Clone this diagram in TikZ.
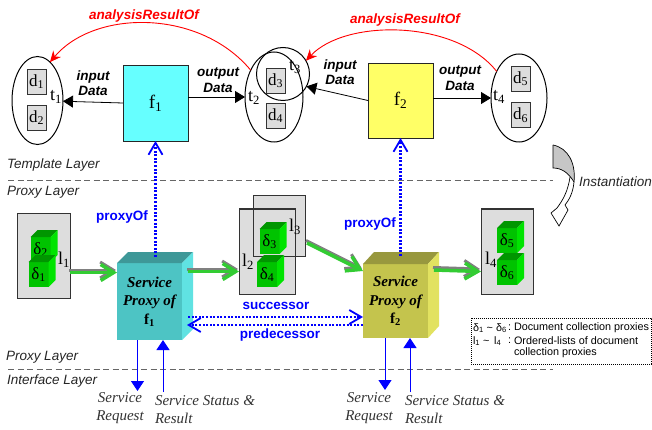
\documentclass[tikz,border=0pt]{standalone}
\usepackage{fontspec}
\setmainfont{Liberation Serif}
\setsansfont{Liberation Sans}
\usetikzlibrary{arrows.meta,shapes.geometric,calc}
\definecolor{fcyan}{RGB}{102,255,255}
\definecolor{fyellow}{RGB}{255,255,102}
\definecolor{boxgray}{RGB}{221,221,221}
\definecolor{cubefront}{RGB}{0,195,0}
\definecolor{cubetop}{RGB}{0,150,0}
\definecolor{cuberight}{RGB}{0,228,0}
\definecolor{spafront}{RGB}{77,196,196}
\definecolor{spatop}{RGB}{62,152,152}
\definecolor{sparight}{RGB}{96,226,226}
\definecolor{spbfront}{RGB}{196,196,77}
\definecolor{spbtop}{RGB}{152,152,62}
\definecolor{spbright}{RGB}{226,226,96}
\definecolor{garrow}{RGB}{51,204,51}
\definecolor{gshadow}{RGB}{128,128,128}
\newcommand\gcube[4]{%
  \node[cubefr] (#1) at (#2,#3) {#4};
  \fill[cubetop] (#1.north west) -- ++(7,-7) -- ($(#1.north east)+(7,-7)$) -- (#1.north east) -- cycle;
  \fill[cuberight] (#1.north east) -- ++(7,-7) -- ($(#1.south east)+(7,-7)$) -- (#1.south east) -- cycle;
}
\begin{document}
\begin{tikzpicture}[x=1pt,y=-1pt,
  every node/.style={inner sep=0pt, outer sep=0pt},
  ell/.style={ellipse, draw=black, line width=1pt, inner sep=0pt},
  dbox/.style={draw=black!80, line width=0.8pt, fill=boxgray, minimum width=19pt, minimum height=25pt, font=\fontsize{17}{17}\selectfont},
  sym/.style={font=\fontsize{18}{18}\selectfont},
  fbox/.style={draw=black!85, line width=0.9pt, minimum width=65pt, font=\fontsize{19}{19}\selectfont},
  dlabel/.style={font=\sffamily\bfseries\itshape\fontsize{13.5}{15.5}\selectfont, align=center},
  redlbl/.style={font=\sffamily\bfseries\itshape\fontsize{13.5}{15}\selectfont, text=red},
  layerlbl/.style={font=\sffamily\itshape\fontsize{13.5}{15}\selectfont, anchor=west, text=black!85},
  bluelbl/.style={font=\sffamily\bfseries\fontsize{13.5}{15}\selectfont, text=blue},
  blk/.style={draw=black, line width=0.8pt, -{Triangle[length=10pt,width=12pt]}},
  redarr/.style={draw=red, line width=0.9pt, -{Stealth[length=11pt,width=10pt]}},
  layerline/.style={draw=black!60, line width=0.9pt, dash pattern=on 6pt off 3.5pt},
  lboxfill/.style={fill=boxgray},
  lboxline/.style={draw=black!80, line width=1pt},
  cubefr/.style={fill=cubefront, minimum width=20pt, minimum height=25pt, font=\fontsize{17}{17}\selectfont},
  spnode/.style={minimum width=65pt, align=center, font=\rmfamily\bfseries\itshape\fontsize{15}{18.5}\selectfont},
  bdot/.style={draw=blue, line width=2.2pt, dash pattern=on 2pt off 1.6pt},
  vtip/.style={-{Straight Barb[length=12pt,width=14pt,line width=1.8pt]}},
  barr/.style={draw=blue, line width=1pt, -{Triangle[length=10pt,width=13pt]}},
  svclbl/.style={font=\rmfamily\itshape\fontsize{15}{18}\selectfont, text=black!80},
  gsh/.style={draw=gshadow, line width=3pt, -{Straight Barb[length=13pt,width=16pt,line width=3pt]}, transform canvas={xshift=-1pt,yshift=2.5pt}},
  ggr/.style={draw=garrow, line width=3.5pt, -{Straight Barb[length=13pt,width=16pt,line width=3.5pt]}},
  legendtxt/.style={font=\sffamily\fontsize{10.8}{13}\selectfont, anchor=west}
]
\useasboundingbox (0,0) rectangle (652,430);
\fill[white] (0,0) rectangle (652,430);

% ---------- template layer ----------
\node[ell, minimum width=51pt, minimum height=88pt] (t1) at (37.5,100.5) {};
\node[ell, minimum width=58pt, minimum height=90pt] (t2) at (274,97) {};
\node[circle, draw=black, line width=1pt, minimum size=53pt] (t3) at (283,74) {};
\node[ell, minimum width=56pt, minimum height=88pt] (t4) at (519,98) {};

\node[dbox] (d1) at (36.5,81.5) {d\textsubscript{1}};
\node[dbox] (d2) at (36.5,117.5) {d\textsubscript{2}};
\node[dbox] (d3) at (275.5,80.5) {d\textsubscript{3}};
\node[dbox] (d4) at (275.5,115.5) {d\textsubscript{4}};
\node[dbox] (d5) at (520.5,78.5) {d\textsubscript{5}};
\node[dbox] (d6) at (520.5,115) {d\textsubscript{6}};

\node[sym] (t1l) at (56,97) {t\textsubscript{1}};
\node[sym] (t2l) at (254,98) {t\textsubscript{2}};
\node[sym] (t3l) at (295,67) {t\textsubscript{3}};
\node[sym] (t4l) at (499,97) {t\textsubscript{4}};

\node[fbox, fill=fcyan, minimum height=76pt] (f1) at (155.5,103) {f\textsubscript{1}};
\node[fbox, fill=fyellow, minimum height=75pt] (f2) at (400.5,100.5) {f\textsubscript{2}};

\draw[blk] (f1.west) -- (t1);
\draw[blk] (f1.east |- t2.west) -- (t2.west);
\draw[blk] (f2.west) -- (t3.-28);
\draw[blk] (f2.east |- t4.west) -- (t4.west);

\node[dlabel] (in1) at (93,83) {input\\Data};
\node[dlabel] (out1) at (218,80) {output\\Data};
\node[dlabel] (in2) at (340,72) {input\\Data};
\node[dlabel] (out2) at (460,78) {output\\Data};

\draw[redarr] (t2.131) .. controls (200,9) and (95,9) .. (t1.72);
\draw[redarr] (t4.130) .. controls (455,19) and (345,19) .. (t3.30);
\node[redlbl] (ar1) at (144,16) {analysisResultOf};
\node[redlbl] (ar2) at (405,20) {analysisResultOf};

% ---------- layer separators ----------
\node[layerlbl] (ltl) at (7,165) {Template Layer};
\node[layerlbl] (lpl1) at (7,192) {Proxy Layer};
\node[layerlbl] (lpl2) at (6,357) {Proxy Layer};
\node[layerlbl] (lil) at (7,381) {Interface Layer};
\draw[layerline] (8,180) -- (553,180);
\draw[layerline] (8,369) -- (553,369);

% instantiation arrow
\fill[gray!45] (553,145) .. controls (568,148) and (576,163) .. (574,182) .. controls (568,172) and (561,168) .. (553,168) -- cycle;
\draw[black, line width=0.7pt] (553,145) .. controls (568,148) and (576,163) .. (574,182) .. controls (573,193) and (569,200) .. (565,205) -- (568,210) -- (559,226) -- (551,213) -- (557,208) .. controls (563,200) and (568,191) .. (570,177);
\draw[black, line width=0.7pt] (553,145) -- (553,168) .. controls (561,168) and (568,172) .. (574,182);
\node[layerlbl] (inst) at (579,182) {Instantiation};

% ---------- proxy layer ----------
\node[lboxfill, minimum width=53pt, minimum height=85pt] (l1) at (43.5,255.5) {};
\draw[lboxline] (l1.south west) rectangle (l1.north east);
\node[lboxfill, minimum width=52pt, minimum height=60pt] (l3) at (279,226) {};
\node[lboxfill, minimum width=56pt, minimum height=85pt] (l2) at (267,251.5) {};
\draw[lboxline] (l3.south west) rectangle (l3.north east);
\draw[lboxline] (l2.south west) rectangle (l2.north east);
\node[lboxfill, minimum width=52pt, minimum height=85pt] (l4) at (507,251.5) {};
\draw[lboxline] (l4.south west) rectangle (l4.north east);

\gcube{c2}{40.5}{249.5}{δ\textsubscript{2}}
\gcube{c1}{38.5}{274.5}{δ\textsubscript{1}}
\gcube{c3}{269.5}{241.5}{δ\textsubscript{3}}
\gcube{c4}{267}{274.5}{δ\textsubscript{4}}
\gcube{c5}{507}{240.5}{δ\textsubscript{5}}
\gcube{c6}{507}{272.5}{δ\textsubscript{6}}

\node[sym] (l1l) at (64,260) {l\textsubscript{1}};
\node[sym] (l2l) at (248,262) {l\textsubscript{2}};
\node[sym] (l3l) at (295,227) {l\textsubscript{3}};
\node[sym] (l4l) at (491,260) {l\textsubscript{4}};

% service proxies
\node[spnode, fill=spafront, minimum height=77pt] (sp1) at (149.5,301.5) {Service\\Proxy of\\{\upshape f\textsubscript{1}}};
\fill[spatop] (sp1.north west) -- ++(11,-11) -- ($(sp1.north east)+(11,-11)$) -- (sp1.north east) -- cycle;
\fill[sparight] (sp1.north east) -- ++(11,-11) -- ($(sp1.south east)+(11,-11)$) -- (sp1.south east) -- cycle;
\node[spnode, fill=spbfront, minimum height=74pt] (sp2) at (395.5,301) {Service\\Proxy of\\{\upshape f\textsubscript{2}}};
\fill[spbtop] (sp2.north west) -- ++(11,-12) -- ($(sp2.north east)+(11,-12)$) -- (sp2.north east) -- cycle;
\fill[spbright] (sp2.north east) -- ++(11,-12) -- ($(sp2.south east)+(11,-12)$) -- (sp2.south east) -- cycle;

% green arrows
\draw[gsh] ([yshift=-17pt]l1.east) -- ([yshift=29pt]sp1.west);
\draw[ggr] ([yshift=-17pt]l1.east) -- ([yshift=29pt]sp1.west);
\draw[gsh] ([xshift=6pt,yshift=30pt]sp1.east) -- ([yshift=-20pt]l2.west);
\draw[ggr] ([xshift=6pt,yshift=30pt]sp1.east) -- ([yshift=-20pt]l2.west);
\draw[gsh] ([xshift=2pt,yshift=-17pt]l3.east) -- ([yshift=-7pt]sp2.north west);
\draw[ggr] ([xshift=2pt,yshift=-17pt]l3.east) -- ([yshift=-7pt]sp2.north west);
\draw[gsh] ([xshift=6pt,yshift=31pt]sp2.east) -- ([yshift=-20pt]l4.west);
\draw[ggr] ([xshift=6pt,yshift=31pt]sp2.east) -- ([yshift=-20pt]l4.west);

% proxyOf
\coordinate (p1) at (155.5,257);
\coordinate (p2) at (400.5,256);
\draw[bdot, vtip] (p1) -- (f1.south);
\draw[bdot, vtip] (p2) -- (f2.south);
\node[bluelbl] (po1) at (122,217) {proxyOf};
\node[bluelbl] (po2) at (370,224) {proxyOf};

% successor / predecessor
\draw[bdot, vtip] ([xshift=6pt,yshift=-15.5pt]sp1.east) -- ([yshift=-16pt]sp2.west);
\draw[bdot, vtip] ([yshift=-24pt]sp2.west) -- ([xshift=5pt,yshift=-23.5pt]sp1.east);
\node[bluelbl] (succ) at (276,306) {successor};
\node[bluelbl] (pred) at (280,335) {predecessor};

% interface arrows
\coordinate (req1) at (137.5,391);
\coordinate (st1) at (163,392);
\coordinate (req2) at (385,390);
\coordinate (st2) at (410,392);
\draw[barr] (sp1.south -| req1) -- (req1);
\draw[barr] (st1) -- (st1 |- sp1.south);
\draw[barr] (sp2.south -| req2) -- (req2);
\draw[barr] (st2) -- (st2 |- sp2.south);
\node[svclbl, align=center] (sr1) at (120,408) {Service\\Request};
\node[svclbl, align=left, anchor=west] (ss1) at (155,409.5) {Service Status \&\\Result};
\node[svclbl, align=center] (sr2) at (369,408) {Service\\Request};
\node[svclbl, align=left, anchor=west] (ss2) at (405,409.5) {Service Status \&\\Result};

% legend
\draw[black, line width=0.8pt, dash pattern=on 0.9pt off 1.1pt] (471,318) rectangle (651,364);
\node[legendtxt] (lg1a) at (473,328) {δ\textsubscript{1} \textasciitilde{} δ\textsubscript{6}};
\node[legendtxt] (lg1b) at (508,328) {:};
\node[legendtxt] (lg1c) at (514,328) {Document collection proxies};
\node[legendtxt] (lg2a) at (473,341) {l\textsubscript{1} \textasciitilde{}\, l\textsubscript{4}};
\node[legendtxt] (lg2b) at (508,341) {:};
\node[legendtxt] (lg2c) at (514,341) {Ordered-lists of document};
\node[legendtxt] (lg3c) at (514,353) {collection proxies};
\end{tikzpicture}
\end{document}
